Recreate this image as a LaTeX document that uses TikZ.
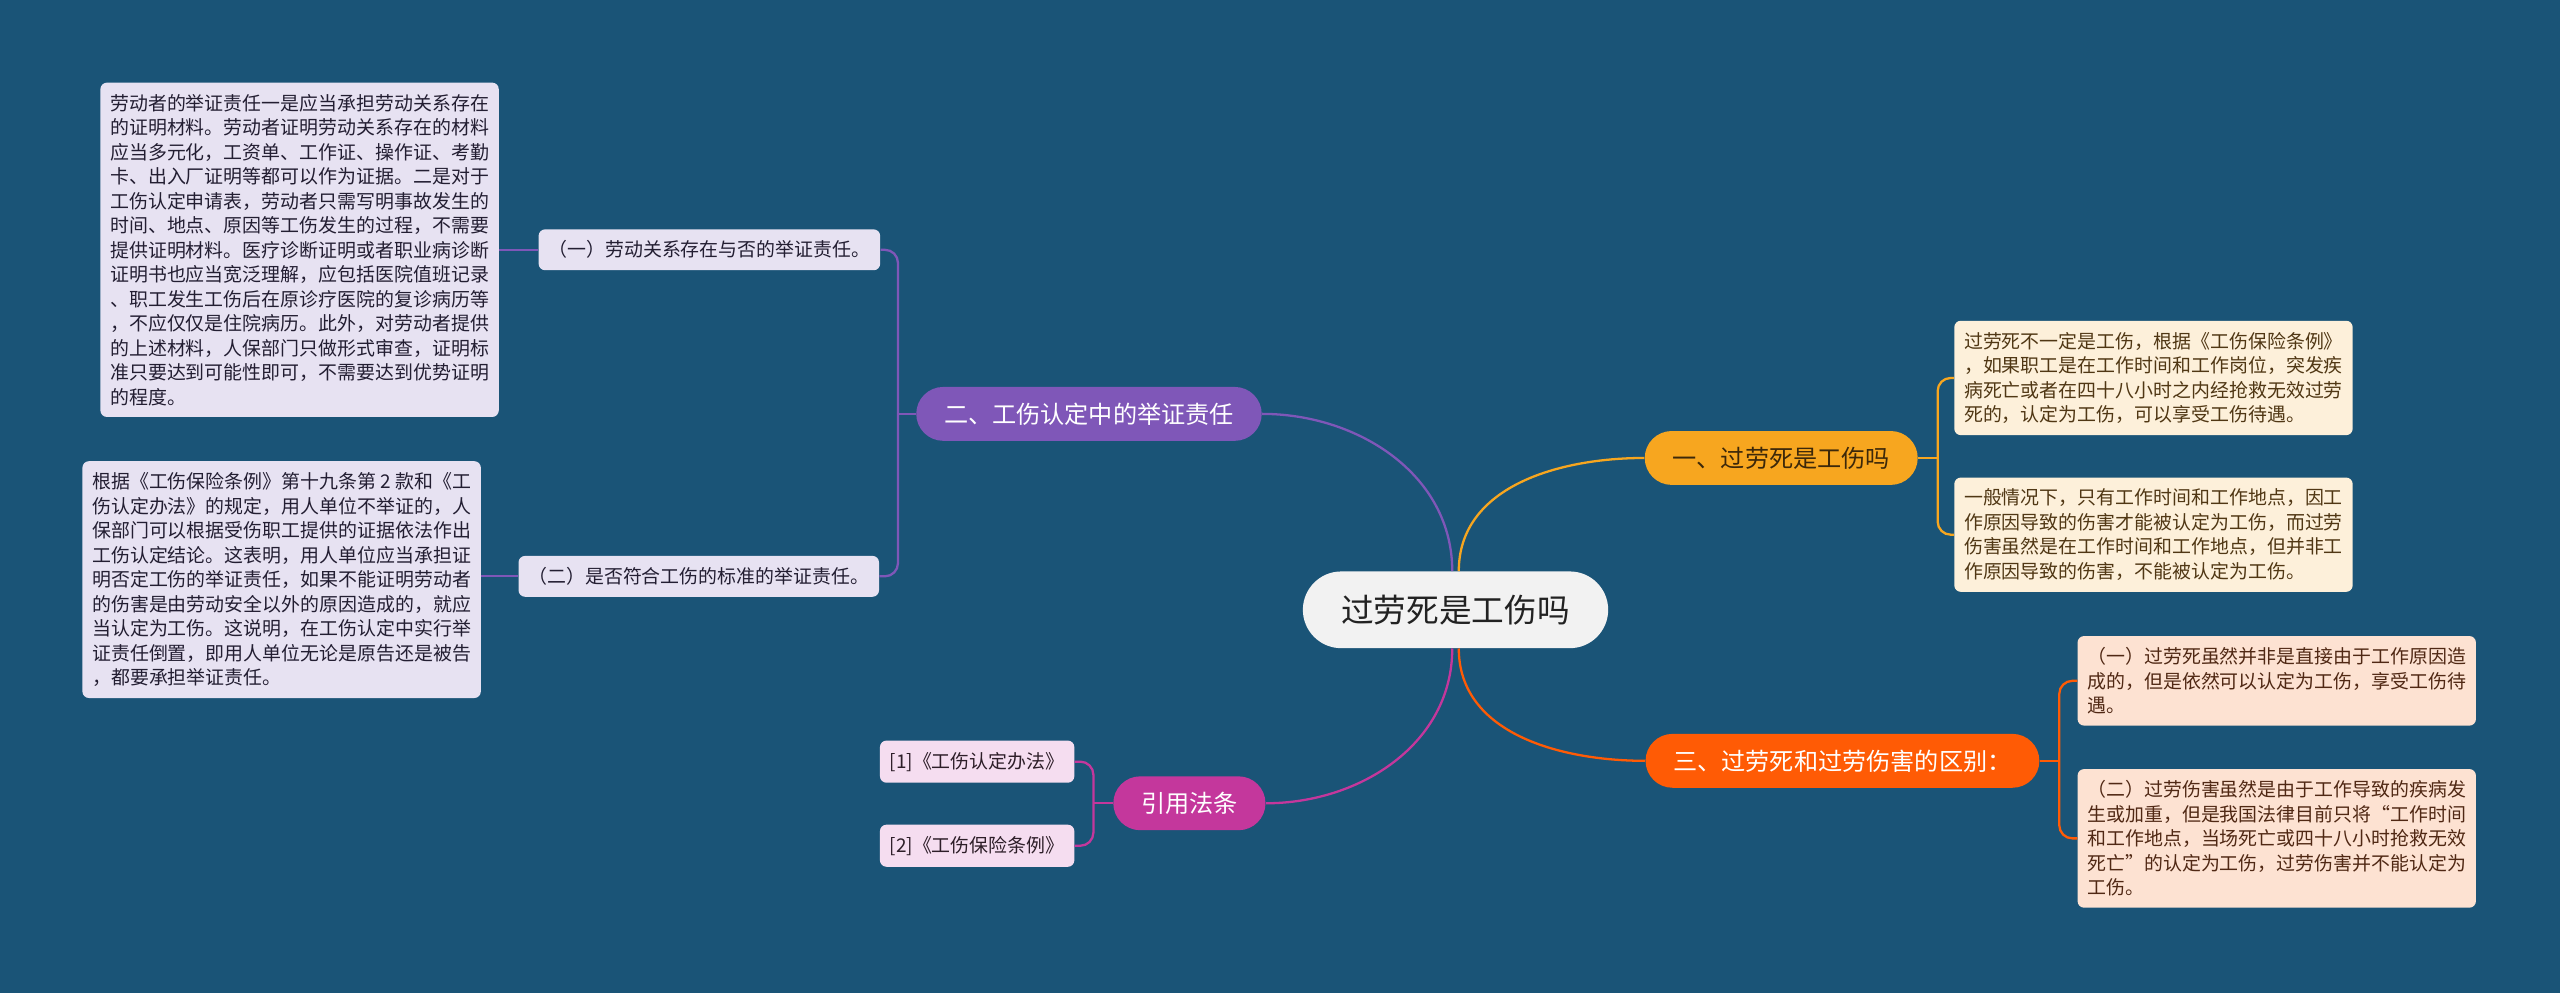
\documentclass[tikz,border=0pt]{standalone}
\usepackage{fontspec}
\setmainfont{Noto Sans CJK SC}
\usetikzlibrary{calc}

\definecolor{bgblue}{RGB}{26,84,119}
\definecolor{rootgrey}{RGB}{242,242,242}
\definecolor{rootink}{RGB}{34,34,34}
\definecolor{amber}{RGB}{247,166,31}
\definecolor{amberink}{RGB}{60,40,10}
\definecolor{cream}{RGB}{253,240,218}
\definecolor{creamink}{RGB}{80,55,20}
\definecolor{violet}{RGB}{127,87,184}
\definecolor{lavender}{RGB}{231,226,242}
\definecolor{lavink}{RGB}{35,30,50}
\definecolor{redorange}{RGB}{255,91,5}
\definecolor{peach}{RGB}{253,226,210}
\definecolor{peachink}{RGB}{80,40,20}
\definecolor{berry}{RGB}{196,55,156}
\definecolor{pinkish}{RGB}{245,221,240}
\definecolor{pinkink}{RGB}{45,30,40}

\begin{document}
\begin{tikzpicture}[x=1pt, y=-1pt,
  topic/.style={rounded corners=23.5pt, minimum height=47pt, inner xsep=23.5pt,
                fill=rootgrey, text=rootink, font=\fontsize{20}{24}\selectfont},
  branch/.style={rounded corners=16.5pt, minimum height=33pt, inner xsep=17pt,
                 text=white, font=\fontsize{14.8}{18}\selectfont},
  leaf/.style={rounded corners=4pt, inner xsep=6pt, inner ysep=7pt, align=left,
               font=\fontsize{11.6}{15}\selectfont},
  link/.style={line width=1.4pt}
]
  \fill[bgblue] (0,0) rectangle (1568,608);

  \node[topic] (root) at (891.5,373.5) {过劳死是工伤吗};

  \node[branch, fill=amber, text=amberink] (isinjury) at (1091,280.5) {一、过劳死是工伤吗};
  \node[branch, fill=violet]    (burden) at (667,253.5)  {二、工伤认定中的举证责任};
  \node[branch, fill=redorange] (diff)   at (1128.5,466) {三、过劳死和过劳伤害的区别：};
  \node[branch, fill=berry]     (cite)   at (728.5,492)  {引用法条};

  \node[leaf, fill=cream, text=creamink] (isinjury-a) at (1319,231.5)
    {过劳死不一定是工伤，根据《工伤保险条例》\\，如果职工是在工作时间和工作岗位，突发疾\\病死亡或者在四十八小时之内经抢救无效过劳\\死的，认定为工伤，可以享受工伤待遇。};
  \node[leaf, fill=cream, text=creamink] (isinjury-b) at (1319,327.5)
    {一般情况下，只有工作时间和工作地点，因工\\作原因导致的伤害才能被认定为工伤，而过劳\\伤害虽然是在工作时间和工作地点，但并非工\\作原因导致的伤害，不能被认定为工伤。};

  \node[leaf, fill=lavender, text=lavink] (burden-a) at (434.5,153) {（一）劳动关系存在与否的举证责任。};
  \node[leaf, fill=lavender, text=lavink] (burden-b) at (428,353)   {（二）是否符合工伤的标准的举证责任。};
  \node[leaf, fill=lavender, text=lavink] (burden-a-text) at (183.5,153)
    {劳动者的举证责任一是应当承担劳动关系存在\\的证明材料。劳动者证明劳动关系存在的材料\\应当多元化，工资单、工作证、操作证、考勤\\卡、出入厂证明等都可以作为证据。二是对于\\工伤认定申请表，劳动者只需写明事故发生的\\时间、地点、原因等工伤发生的过程，不需要\\提供证明材料。医疗诊断证明或者职业病诊断\\证明书也应当宽泛理解，应包括医院值班记录\\、职工发生工伤后在原诊疗医院的复诊病历等\\，不应仅仅是住院病历。此外，对劳动者提供\\的上述材料，人保部门只做形式审查，证明标\\准只要达到可能性即可，不需要达到优势证明\\的程度。};
  \node[leaf, fill=lavender, text=lavink] (burden-b-text) at (172.5,355)
    {根据《工伤保险条例》第十九条第 2 款和《工\\伤认定办法》的规定，用人单位不举证的，人\\保部门可以根据受伤职工提供的证据依法作出\\工伤认定结论。这表明，用人单位应当承担证\\明否定工伤的举证责任，如果不能证明劳动者\\的伤害是由劳动安全以外的原因造成的，就应\\当认定为工伤。这说明，在工伤认定中实行举\\证责任倒置，即用人单位无论是原告还是被告\\，都要承担举证责任。};

  \node[leaf, fill=peach, text=peachink] (diff-a) at (1394.5,417)
    {（一）过劳死虽然并非是直接由于工作原因造\\成的，但是依然可以认定为工伤，享受工伤待\\遇。};
  \node[leaf, fill=peach, text=peachink] (diff-b) at (1394.5,513.5)
    {（二）过劳伤害虽然是由于工作导致的疾病发\\生或加重，但是我国法律目前只将“工作时间\\和工作地点，当场死亡或四十八小时抢救无效\\死亡”的认定为工伤，过劳伤害并不能认定为\\工伤。};

  \node[leaf, fill=pinkish, text=pinkink] (cite-a) at (598.5,466.5) {[1]《工伤认定办法》};
  \node[leaf, fill=pinkish, text=pinkink] (cite-b) at (598.5,518)   {[2]《工伤保险条例》};

  \draw[link, amber]     ([xshift=2pt]root.north)  to[out=90,in=180]  (isinjury.west);
  \draw[link, violet]    ([xshift=-2pt]root.north) to[out=90,in=0]    (burden.east);
  \draw[link, redorange] ([xshift=2pt]root.south)  to[out=-90,in=180] (diff.west);
  \draw[link, berry]     ([xshift=-2pt]root.south) to[out=-90,in=0]   (cite.east);

  \coordinate (j1) at ($(isinjury.east)+(12,0)$);
  \coordinate (j2) at ($(burden.west)+(-11,0)$);
  \coordinate (j3) at ($(diff.east)+(12,0)$);
  \coordinate (j4) at ($(cite.west)+(-12,0)$);

  \draw[link, amber] (isinjury.east) -- (j1);
  \draw[link, amber, rounded corners=8pt] (isinjury-a.west) -| (j1) |- (isinjury-b.west);
  \draw[link, violet] (burden.west) -- (j2);
  \draw[link, violet, rounded corners=8pt] (burden-a.east) -| (j2) |- (burden-b.east);
  \draw[link, redorange] (diff.east) -- (j3);
  \draw[link, redorange, rounded corners=8pt] (diff-a.west) -| (j3) |- (diff-b.west);
  \draw[link, berry] (cite.west) -- (j4);
  \draw[link, berry, rounded corners=8pt] (cite-a.east) -| (j4) |- (cite-b.east);

  \draw[link, violet] (burden-a.west) -- (burden-a-text.east);
  \draw[link, violet] (burden-b.west) -- (burden-b.west -| burden-b-text.east);
\end{tikzpicture}
\end{document}
